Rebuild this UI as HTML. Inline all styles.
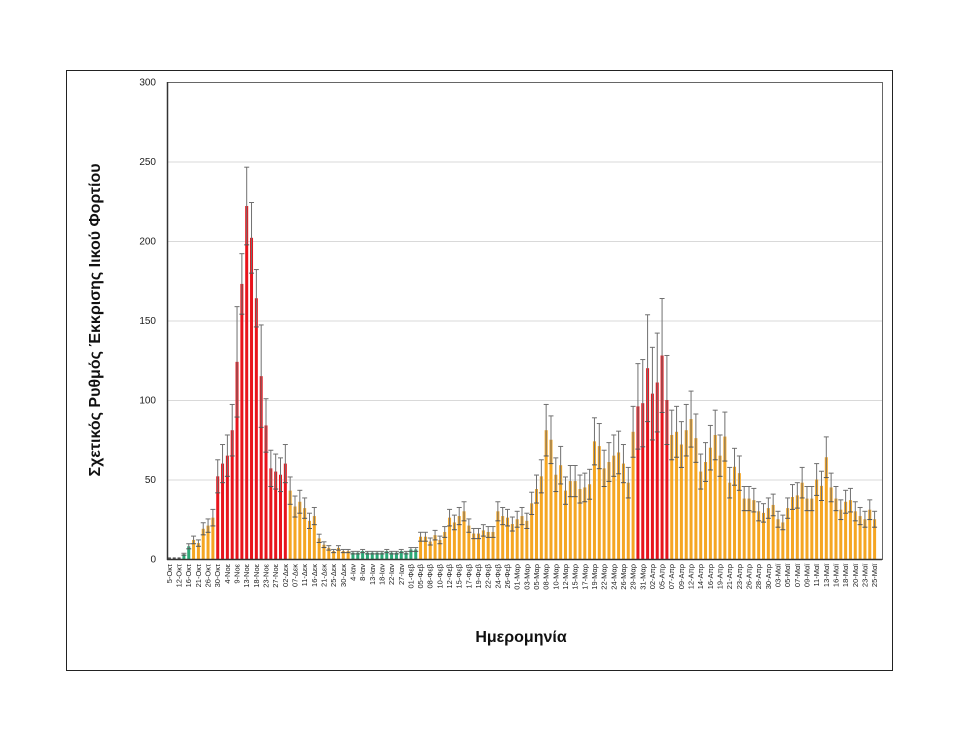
<!DOCTYPE html>
<html><head><meta charset="utf-8"><style>
body{margin:0;background:#fff;width:960px;height:742px;overflow:hidden;font-family:"Liberation Sans",sans-serif}
</style></head><body>
<svg id="s" width="960" height="742" xmlns="http://www.w3.org/2000/svg" font-family="Liberation Sans, DejaVu Sans, sans-serif">
<rect x="66.5" y="70.5" width="826" height="600" fill="#fff" stroke="#222" stroke-width="1"/>
<g id="grid"></g>
<g id="bars"></g>
<rect x="167.5" y="82.5" width="715" height="477" fill="none" stroke="#666" stroke-width="1"/>
<line x1="167.5" y1="82" x2="167.5" y2="560" stroke="#333" stroke-width="1.5"/>
<line x1="167" y1="559.5" x2="882" y2="559.5" stroke="#333" stroke-width="1.5"/>
<g id="yl" font-size="10" fill="#222" text-anchor="end"></g>
<g id="xl" font-size="7.5" fill="#222"></g>
<text x="100" y="320" font-size="16" font-weight="bold" text-anchor="middle" transform="rotate(-90 100 320)" fill="#111">Σχετικός Ρυθμός Έκκρισης Ιικού Φορτίου</text>
<text x="521" y="642" font-size="16" font-weight="bold" text-anchor="middle" fill="#111">Ημερομηνία</text>
</svg>
<script>
var v=[1,1,1,3,8,12,10,19,21,26,52,60,65,81,124,173,222,202,164,115,84,57,55,53,60,43,33,36,32,24,27,13,9,7,5,7,5,5,
4,4,5,4,4,4,4,5,4,4,5,4,6,6,
14,14,11,15,12,17,26,23,27,30,21,16,16,18,17,17,30,27,26,22,25,27,24,35,44,52,81,75,53,59,43,49,49,44,45,47,74,71,57,61,65,67,60,48,80,
96,98,120,104,111,128,100,
78,80,72,81,88,76,55,61,70,78,65,77,48,58,54,38,38,37,30,29,32,34,25,23,32,39,40,48,38,38,50,46,64,45,38,31,36,37,30,27,25,31,25];
var n=v.length,x0=167,pitch=4.83,y0=559,sc=477/300;
var ns="http://www.w3.org/2000/svg";
function el(t,a,p){var e=document.createElementNS(ns,t);for(var k in a)e.setAttribute(k,a[k]);document.getElementById(p).appendChild(e);return e;}
for(var t=50;t<=250;t+=50){var y=y0-t*sc;el("line",{x1:168,x2:882,y1:y+.5,y2:y+.5,stroke:"#d9d9d9","stroke-width":1},"grid");}
for(var t=0;t<=300;t+=50){var e=el("text",{x:156,y:y0-t*sc+3.5},"yl");e.textContent=t;}
for(var i=0;i<n;i++){
 var c;if(i<3)c="#555";else if(i<5||(i>=38&&i<52))c="#2aa876";else if((i>=10&&i<=24)||(i>=97&&i<=103))c="#e8141c";else c="#f5a623";
 var cx=x0+pitch*(i+.5),h=v[i]*sc,bw=3;
 el("rect",{x:cx-bw/2,y:y0-h,width:bw,height:h,fill:c},"bars");
 if(i>=3){var f=v[i]>150?0.11:(v[i]>=90?0.28:0.2);var up=v[i]*(1+f),lo=v[i]*(1-f);
 var yu=y0-up*sc,yl=y0-lo*sc;
 el("line",{x1:cx,x2:cx,y1:yu,y2:yl,stroke:"#707070","stroke-width":1},"bars");
 el("line",{x1:cx-2.5,x2:cx+2.5,y1:yu,y2:yu,stroke:"#707070","stroke-width":1},"bars");
 el("line",{x1:cx-2.5,x2:cx+2.5,y1:yl,y2:yl,stroke:"#555","stroke-width":1},"bars");}
}
var L="5-Οκτ,12-Οκτ,16-Οκτ,21-Οκτ,26-Οκτ,30-Οκτ,4-Νοε,9-Νοε,13-Νοε,18-Νοε,23-Νοε,27-Νοε,02-Δεκ,07-Δεκ,11-Δεκ,16-Δεκ,21-Δεκ,25-Δεκ,30-Δεκ,4-Ιαν,8-Ιαν,13-Ιαν,18-Ιαν,22-Ιαν,27-Ιαν,01-Φεβ,05-Φεβ,08-Φεβ,10-Φεβ,12-Φεβ,15-Φεβ,17-Φεβ,19-Φεβ,22-Φεβ,24-Φεβ,26-Φεβ,01-Μαρ,03-Μαρ,05-Μαρ,08-Μαρ,10-Μαρ,12-Μαρ,15-Μαρ,17-Μαρ,19-Μαρ,22-Μαρ,24-Μαρ,26-Μαρ,29-Μαρ,31-Μαρ,02-Απρ,05-Απρ,07-Απρ,09-Απρ,12-Απρ,14-Απρ,16-Απρ,19-Απρ,21-Απρ,23-Απρ,26-Απρ,28-Απρ,30-Απρ,03-Μαϊ,05-Μαϊ,07-Μαϊ,09-Μαϊ,11-Μαϊ,13-Μαϊ,16-Μαϊ,18-Μαϊ,20-Μαϊ,23-Μαϊ,25-Μαϊ".split(",");
for(var j=0;j<L.length;j++){var cx=x0+pitch*(2*j+.5)+2.5;var e=el("text",{x:cx,y:564,"text-anchor":"end",transform:"rotate(-90 "+cx+" 564)"},"xl");e.textContent=L[j];}
</script>
</body></html>
